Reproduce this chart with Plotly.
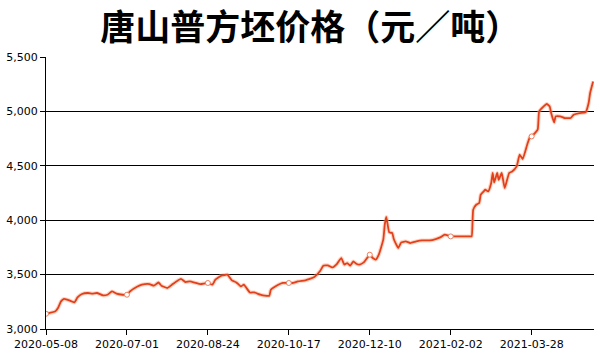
import plotly.graph_objects as go

title_text = "唐山普方坯价格（元／吨）"

dates = [
    "2020-05-08", "2020-05-14", "2020-05-16", "2020-05-18", "2020-05-20", "2020-05-22",
    "2020-05-25", "2020-05-27", "2020-05-29", "2020-06-01", "2020-06-05", "2020-06-08",
    "2020-06-11", "2020-06-15", "2020-06-18", "2020-06-21", "2020-06-24", "2020-06-28",
    "2020-07-01", "2020-07-03", "2020-07-08", "2020-07-11", "2020-07-16", "2020-07-19",
    "2020-07-22", "2020-07-24", "2020-07-28", "2020-07-31", "2020-08-03", "2020-08-06",
    "2020-08-09", "2020-08-12", "2020-08-16", "2020-08-19", "2020-08-24", "2020-08-27",
    "2020-08-29", "2020-09-02", "2020-09-06", "2020-09-09", "2020-09-12", "2020-09-15",
    "2020-09-17", "2020-09-21", "2020-09-24", "2020-09-28", "2020-10-01", "2020-10-04",
    "2020-10-05", "2020-10-10", "2020-10-13", "2020-10-17", "2020-10-20", "2020-10-23",
    "2020-10-28", "2020-10-31", "2020-11-03", "2020-11-07", "2020-11-09", "2020-11-12",
    "2020-11-15", "2020-11-18", "2020-11-21", "2020-11-23", "2020-11-25", "2020-11-27",
    "2020-11-29", "2020-12-01", "2020-12-03", "2020-12-06", "2020-12-10", "2020-12-12",
    "2020-12-14", "2020-12-16", "2020-12-19", "2020-12-20", "2020-12-21", "2020-12-23",
    "2020-12-25", "2020-12-26", "2020-12-29", "2020-12-31", "2021-01-03", "2021-01-06",
    "2021-01-10", "2021-01-14", "2021-01-19", "2021-01-23", "2021-01-26", "2021-01-29",
    "2021-02-02", "2021-02-06", "2021-02-15", "2021-02-16", "2021-02-17", "2021-02-19",
    "2021-02-21", "2021-02-22", "2021-02-24", "2021-02-25", "2021-02-27", "2021-03-01",
    "2021-03-02", "2021-03-03", "2021-03-05", "2021-03-06", "2021-03-08", "2021-03-10",
    "2021-03-13", "2021-03-15", "2021-03-18", "2021-03-20", "2021-03-22", "2021-03-25",
    "2021-03-27", "2021-03-28", "2021-04-01", "2021-04-02", "2021-04-05", "2021-04-07",
    "2021-04-09", "2021-04-10", "2021-04-12", "2021-04-13", "2021-04-16", "2021-04-19",
    "2021-04-23", "2021-04-25", "2021-04-29", "2021-05-03", "2021-05-05", "2021-05-06",
    "2021-05-08",
]

prices = [
    3140, 3160, 3193, 3254, 3276, 3270,
    3254, 3245, 3290, 3322, 3331, 3325,
    3331, 3309, 3315, 3345, 3325, 3315,
    3315, 3345, 3390, 3407, 3413, 3398,
    3428, 3398, 3377, 3407, 3437, 3460,
    3432, 3437, 3423, 3413, 3423, 3407,
    3453, 3490, 3499, 3447, 3428, 3391,
    3407, 3336, 3336, 3315, 3306, 3306,
    3361, 3407, 3423, 3423, 3423, 3437,
    3447, 3460, 3478, 3536, 3582, 3585,
    3566, 3597, 3652, 3591, 3606, 3582,
    3621, 3600, 3591, 3612, 3683, 3652,
    3637, 3683, 3821, 3959, 4030, 3888,
    3882, 3827, 3744, 3796, 3805, 3790,
    3805, 3814, 3814, 3827, 3842, 3867,
    3851, 3851, 3851, 3851, 4096, 4142,
    4158, 4234, 4265, 4280, 4265, 4342,
    4434, 4347, 4434, 4372, 4434, 4296,
    4434, 4448, 4494, 4602, 4562, 4694,
    4770, 4770, 4832, 5000, 5046, 5068,
    5046, 4985, 4899, 4954, 4954, 4939,
    4939, 4970, 4985, 4991, 5077, 5169,
    5275,
]

marker_dates = ["2020-05-08", "2020-07-01", "2020-08-24", "2020-10-17",
                "2020-12-10", "2021-02-02", "2021-03-28"]

y_ticks = [3000, 3500, 4000, 4500, 5000, 5500]

price_by_date = dict(zip(dates, prices))
marker_prices = [price_by_date[d] for d in marker_dates]

line_color = "#e2401c"

fig = go.Figure()
fig.add_trace(go.Scatter(
    x=dates, y=prices, mode="lines",
    line=dict(color="rgba(246,160,120,0.45)", width=4, shape="spline", smoothing=0.4),
    hoverinfo="skip", showlegend=False,
))
fig.add_trace(go.Scatter(
    x=dates, y=prices, mode="lines",
    line=dict(color=line_color, width=1.8, shape="spline", smoothing=0.4),
    showlegend=False,
))
fig.add_trace(go.Scatter(
    x=marker_dates, y=marker_prices, mode="markers",
    marker=dict(symbol="circle", size=5, color="white",
                line=dict(color="#e88060", width=1)),
    showlegend=False,
))

fig.update_layout(
    width=600, height=360,
    margin=dict(l=43, r=6, t=57, b=31),
    paper_bgcolor="white", plot_bgcolor="white",
    title=dict(text=title_text, x=0.517, xanchor="center", y=0.922, yanchor="middle",
               font=dict(family="Noto Sans CJK SC", size=35, color="black", weight="bold")),
    font=dict(family="DejaVu Sans", size=11, color="black"),
    xaxis=dict(
        type="date",
        range=["2020-05-08", "2021-05-08 14:00"],
        tick0="2020-05-08", dtick=54 * 86400000,
        tickformat="%Y-%m-%d",
        showgrid=False, zeroline=False,
        showline=True, linecolor="black", linewidth=1,
        ticks="outside", ticklen=5, tickcolor="black",
        tickfont=dict(family="DejaVu Sans", size=11, color="black"),
    ),
    yaxis=dict(
        range=[3000, 5500],
        tickvals=y_ticks, tickformat=",",
        showgrid=True, gridcolor="black", gridwidth=1,
        zeroline=False,
        showline=True, linecolor="black", linewidth=1,
        ticks="outside", ticklen=5, tickcolor="black",
        tickfont=dict(family="DejaVu Sans", size=11, color="black"),
    ),
)

# Remove the browser's default 8px body margin so the figure sits at the page corner.
fig.write_html("out.html", config={"displayModeBar": False},
               post_script="document.body.style.margin='0';")
